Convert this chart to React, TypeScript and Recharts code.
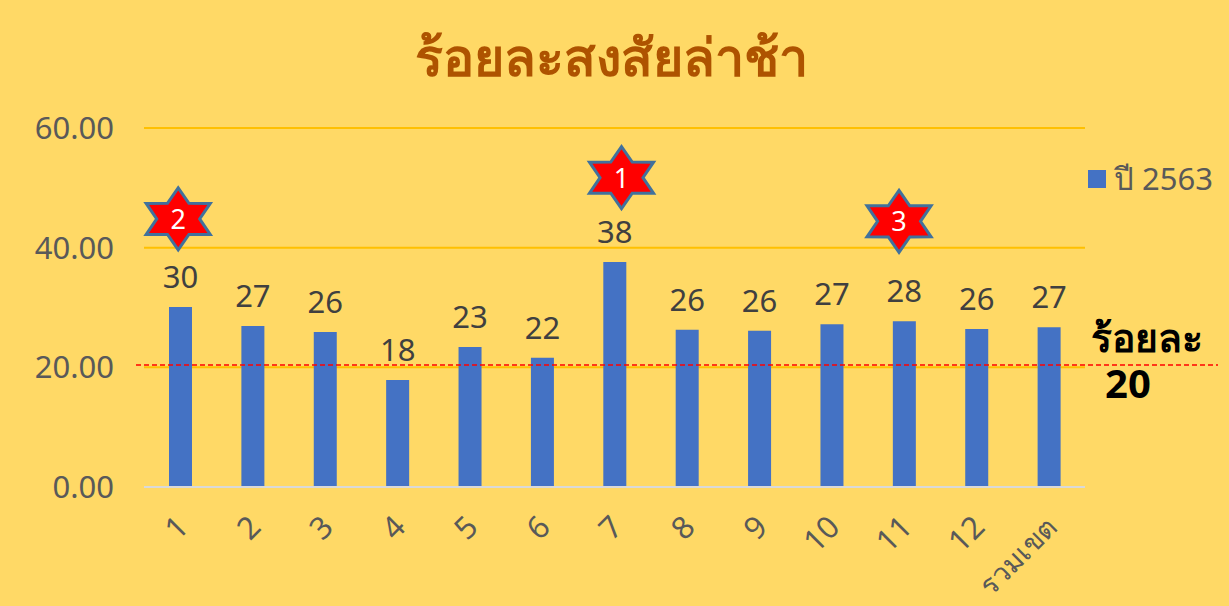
import { BarChart, Bar, XAxis, YAxis, CartesianGrid, Legend, LabelList, ReferenceLine, ReferenceDot } from "recharts"

const categories = ["1", "2", "3", "4", "5", "6", "7", "8", "9", "10", "11", "12", "รวมเขต"]
const values = [30.1, 26.9, 25.9, 17.9, 23.4, 21.6, 37.6, 26.3, 26.1, 27.2, 27.7, 26.4, 26.7]
const yTicks = [0, 20, 40, 60]
const targetValue = 20.4

// rank stars above the worst three districts
const starCategories = ["7", "1", "11"]
const starHeights = [51.7, 44.8, 44.4]
const starRanks = ["1", "2", "3"]
const starNudge = [7, -2, -5]

const chartData = categories.map((name, i) => ({ name, value: values[i] }))

const FONT = "'Noto Sans', Tahoma, sans-serif"
const GREY = "#595959"

const Star = ({ cx, cy, rank, nudge }: any) => {
    const rx = 37
    const ry = 31
    const pts: string[] = []
    for (let i = 0; i < 12; i++) {
        const a = (Math.PI / 6) * i - Math.PI / 2
        const d = i % 2 === 0 ? 1 : 0.58
        pts.push(`${cx + nudge + rx * d * Math.cos(a)},${cy + ry * d * Math.sin(a)}`)
    }
    return (
        <g>
            <polygon points={pts.join(" ")} fill="#FF0000" stroke="#41719C" strokeWidth={3} strokeLinejoin="miter" />
            <text x={cx + nudge} y={cy + 10} textAnchor="middle" fontSize={27} fill="#fff" fontFamily={FONT}>
                {rank}
            </text>
        </g>
    )
}

const XTick = ({ x, y, payload }: any) => (
    <text
        transform={`translate(${x + 10},${y + 34}) rotate(-45)`}
        textAnchor="end"
        fontSize={payload.value.length > 2 ? 28 : 31}
        fill={GREY}
        fontFamily={FONT}
    >
        {payload.value}
    </text>
)

const TargetLine = ({ x1, x2, y1 }: any) => (
    <line x1={x1 - 8} x2={x2 + 133} y1={y1} y2={y1} stroke="#FF0000" strokeWidth={1.5} strokeDasharray="5 3" />
)

export default function App() {
    return (
        <div style={{ position: "absolute", left: 0, top: 0, width: 1229, height: 606, background: "#FFD966" }}>
            <BarChart
                width={1229}
                height={606}
                data={chartData}
                margin={{ top: 128, right: 4, left: 0, bottom: 0 }}
                style={{ fontFamily: FONT }}
            >
                <text x={611} y={76} textAnchor="middle" fontSize={52} fontWeight="bold" fill="#AE5300" fontFamily={FONT}>
                    ร้อยละสงสัยล่าช้า
                </text>
                <CartesianGrid horizontal vertical={false} stroke="#FFC000" strokeWidth={2} />
                <XAxis
                    dataKey="name"
                    height={119}
                    interval={0}
                    tickLine={false}
                    axisLine={{ stroke: "#D9D9D9", strokeWidth: 2 }}
                    tick={<XTick />}
                />
                <YAxis
                    width={144}
                    domain={[0, 60]}
                    ticks={yTicks}
                    tickFormatter={(v: number) => v.toFixed(2)}
                    tickLine={false}
                    axisLine={false}
                    tickMargin={24}
                    tick={{ fontSize: 31, fill: GREY, fontFamily: FONT }}
                />
                <Legend
                    layout="vertical"
                    align="right"
                    verticalAlign="top"
                    iconType="square"
                    iconSize={18}
                    wrapperStyle={{ position: "absolute", left: 1088, top: 151, width: 140, fontSize: 31, fontFamily: FONT, color: GREY }}
                    formatter={(v: string) => <span style={{ color: GREY, marginLeft: 4, position: "relative", top: 3 }}>{v}</span>}
                />
                <Bar dataKey="value" name="ปี 2563" fill="#4472C4" barSize={23} isAnimationActive={false}>
                    <LabelList
                        dataKey="value"
                        position="top"
                        offset={19}
                        formatter={(v: number) => v.toFixed(0)}
                        style={{ fontSize: 31, fill: "#404040", fontFamily: FONT }}
                    />
                </Bar>
                <ReferenceLine y={targetValue} shape={<TargetLine />} ifOverflow="visible" />
                {starCategories.map((c, i) => (
                    <ReferenceDot
                        key={c}
                        x={c}
                        y={starHeights[i]}
                        ifOverflow="visible"
                        shape={(p: any) => <Star {...p} rank={starRanks[i]} nudge={starNudge[i]} />}
                    />
                ))}
                <text x={1147} y={352} textAnchor="middle" fontSize={39} fontWeight="bold" fill="#000" fontFamily={FONT}>
                    ร้อยละ
                </text>
                <text x={1128} y={398} textAnchor="middle" fontSize={40} fontWeight="bold" fill="#000" fontFamily={FONT}>
                    20
                </text>
            </BarChart>
        </div>
    )
}
